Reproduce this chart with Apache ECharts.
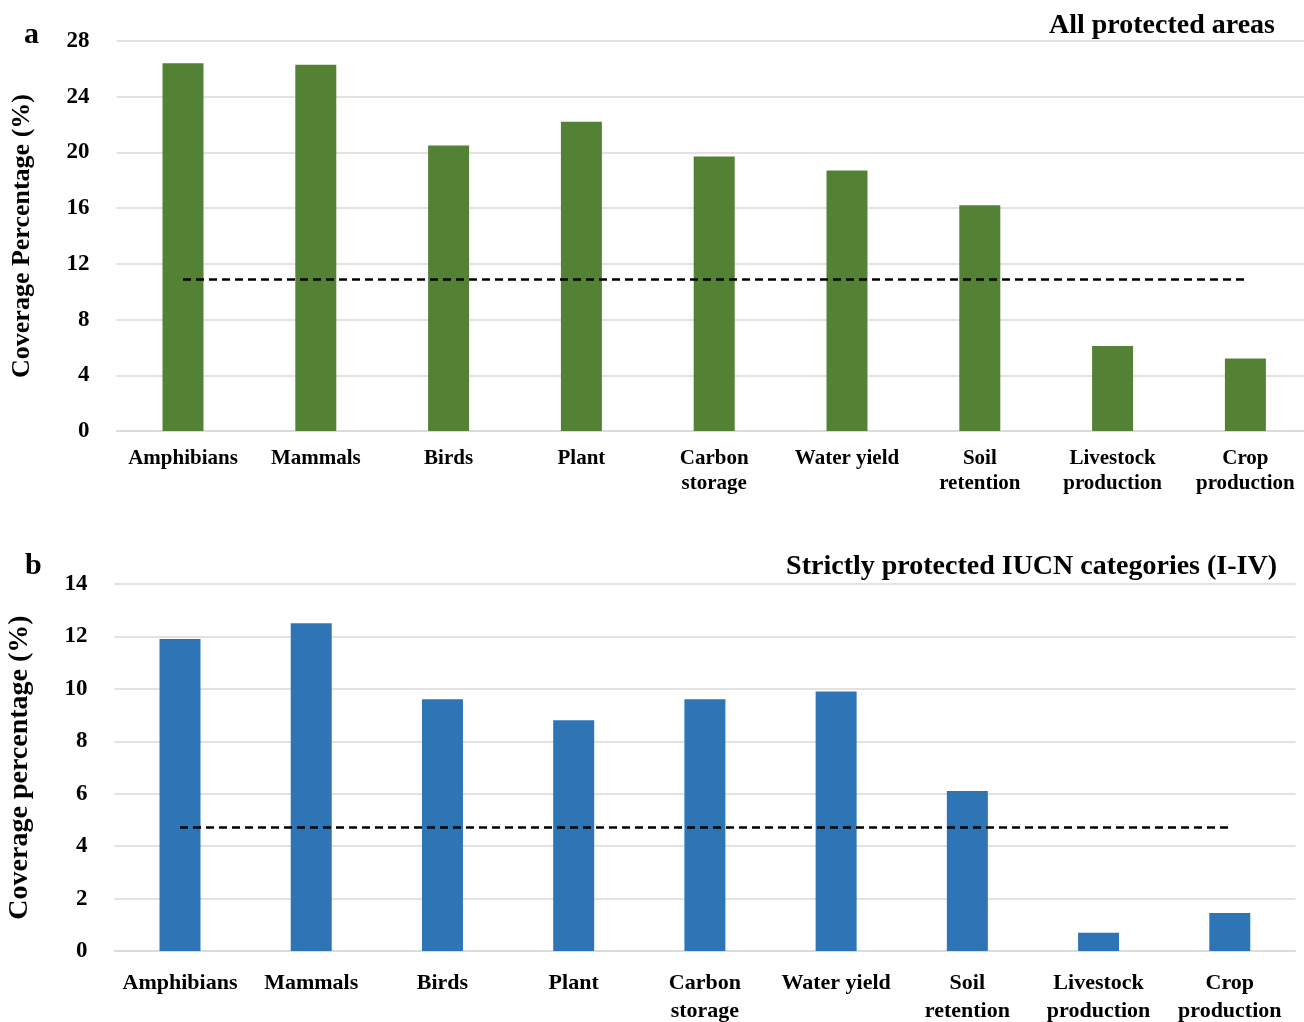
<!DOCTYPE html>
<html>
<head>
<meta charset="utf-8">
<script src="https://cdn.jsdelivr.net/npm/echarts@6/dist/echarts.min.js"></script>
<style>
  html, body { margin: 0; padding: 0; background: #fff; }
  #chart { width: 1304px; height: 1022px; }
</style>
</head>
<body>
<div id="chart"></div>
<script>
// Categories shared by both panels
const categories = ['Amphibians', 'Mammals', 'Birds', 'Plant', 'Carbon\nstorage',
  'Water yield', 'Soil\nretention', 'Livestock\nproduction', 'Crop\nproduction'];

// Panel a: all protected areas (%)
const allCoverage = [26.4, 26.3, 20.5, 22.2, 19.7, 18.7, 16.2, 6.1, 5.2];
const allReference = 10.9;
const allTicks = { min: 0, max: 28, interval: 4 };

// Panel b: strictly protected IUCN categories I-IV (%)
const strictCoverage = [11.9, 12.5, 9.6, 8.8, 9.6, 9.9, 6.1, 0.7, 1.45];
const strictReference = 4.73;
const strictTicks = { min: 0, max: 14, interval: 2 };

const serif = '"Liberation Serif", "Times New Roman", serif';
const gridGray = '#d9d9d9';

function catAxis(gridIndex, size, lh, margin) {
  return {
    type: 'category', gridIndex, data: categories,
    axisTick: { show: false },
    axisLine: { lineStyle: { color: gridGray, width: 1.5 } },
    axisLabel: { interval: 0, color: '#000', fontFamily: serif, fontWeight: 'bold',
      fontSize: size, lineHeight: lh, margin }
  };
}
function valAxis(gridIndex, ticks, name, nameSize, gap) {
  return {
    type: 'value', gridIndex, min: ticks.min, max: ticks.max, interval: ticks.interval,
    name, nameLocation: 'middle', nameGap: gap,
    nameTextStyle: { color: '#000', fontFamily: serif, fontWeight: 'bold', fontSize: nameSize },
    axisLine: { show: false }, axisTick: { show: false },
    axisLabel: { color: '#000', fontFamily: serif, fontWeight: 'bold', fontSize: 23, margin: 27 },
    splitLine: { lineStyle: { color: gridGray, width: 1.5 } }
  };
}
function refLine(value) {
  return {
    silent: true, symbol: 'none', label: { show: false },
    lineStyle: { color: '#000', type: [8, 5], width: 2.5 },
    data: [[{ coord: [0, value] }, { coord: [categories.length - 1, value] }]]
  };
}

const chart = echarts.init(document.getElementById('chart'));
chart.setOption({
  animation: false,
  backgroundColor: '#fff',
  title: [
    { text: 'a', left: 19, top: 15, textStyle: { fontFamily: serif, fontWeight: 'bold', fontSize: 30, color: '#000' } },
    { text: 'All protected areas', right: 24, top: 7, textStyle: { fontFamily: serif, fontWeight: 'bold', fontSize: 28, color: '#000' } },
    { text: 'b', left: 20, top: 546, textStyle: { fontFamily: serif, fontWeight: 'bold', fontSize: 30, color: '#000' } },
    { text: 'Strictly protected IUCN categories (I-IV)', right: 22, top: 548, textStyle: { fontFamily: serif, fontWeight: 'bold', fontSize: 28, color: '#000' } }
  ],
  grid: [
    { left: 116.6, top: 41, width: 1195.2, height: 390, outerBoundsMode: 'none' },
    { left: 114.4, top: 584, width: 1181, height: 367, outerBoundsMode: 'none' }
  ],
  xAxis: [catAxis(0, 21, 25, 15), catAxis(1, 22, 28, 18)],
  yAxis: [
    valAxis(0, allTicks, 'Coverage Percentage (%)', 26, 81),
    valAxis(1, strictTicks, 'Coverage percentage (%)', 28, 81)
  ],
  series: [
    { type: 'bar', xAxisIndex: 0, yAxisIndex: 0, data: allCoverage, barWidth: 41,
      itemStyle: { color: '#548235' }, markLine: refLine(allReference) },
    { type: 'bar', xAxisIndex: 1, yAxisIndex: 1, data: strictCoverage, barWidth: 41,
      itemStyle: { color: '#2e75b6' }, markLine: refLine(strictReference) }
  ]
});
</script>
</body>
</html>
